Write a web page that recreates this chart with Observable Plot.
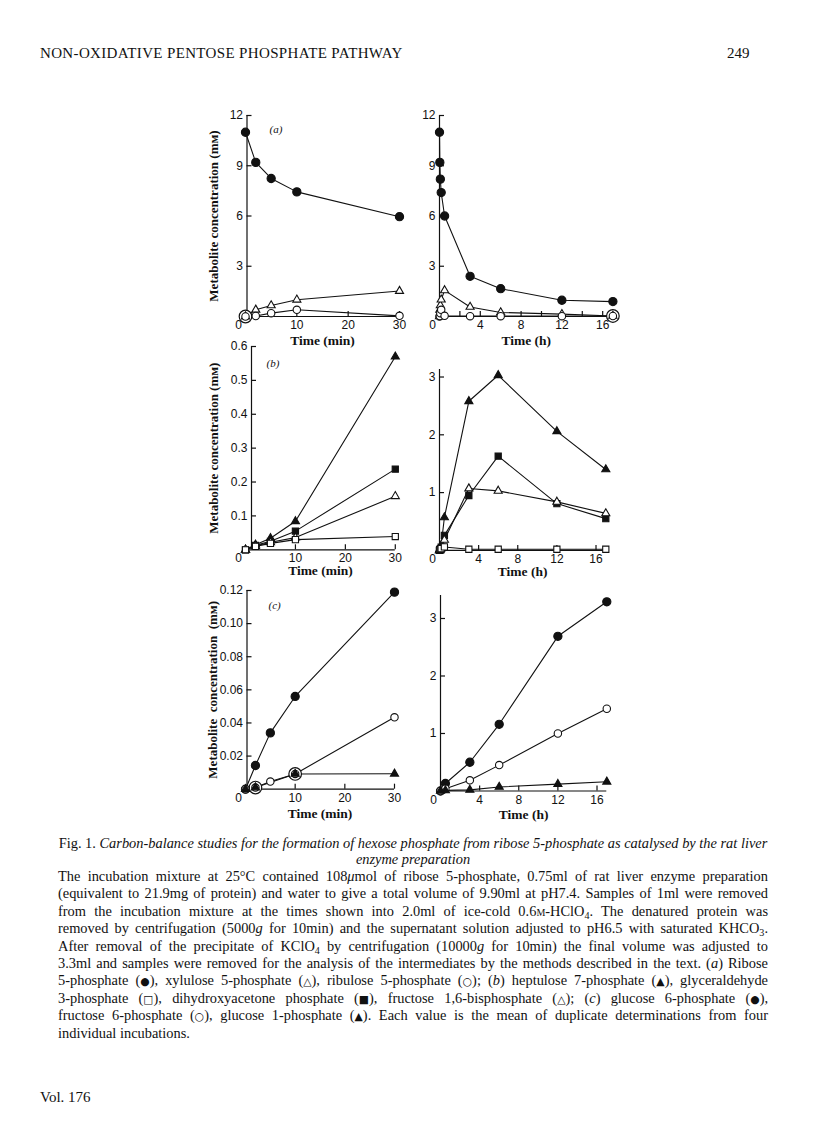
<!DOCTYPE html>
<html>
<head>
<meta charset="utf-8">
<script src="https://cdn.jsdelivr.net/npm/d3@7"></script>
<script src="https://cdn.jsdelivr.net/npm/@observablehq/plot@0.6"></script>
<style>
html,body{margin:0;padding:0;background:#fff;}
#page{position:relative;width:816px;height:1136px;overflow:hidden;background:#fff;color:#111;font-family:"Liberation Serif","Times New Roman",serif;}
.hdr{position:absolute;top:45px;font-size:15px;white-space:nowrap;}
.ln{position:absolute;left:58px;width:710px;font-size:14.4px;line-height:16px;white-space:nowrap;}
.ln.c{text-align:center;}
.ln sub{font-size:70%;vertical-align:-0.25em;line-height:0;}
.sym{font-family:"DejaVu Sans",sans-serif;font-size:75%;}
.sc{font-variant:small-caps;}
svg{overflow:visible;}
</style>
</head>
<body>
<div id="page">
  <div class="hdr" style="left:40px;letter-spacing:0.35px">NON-OXIDATIVE PENTOSE PHOSPHATE PATHWAY</div>
  <div class="hdr" style="left:727px">249</div>
  <div id="plots"></div>
  <div class="ln c" style="top:835px">Fig. 1. <i>Carbon-balance studies for the formation of hexose phosphate from ribose 5-phosphate as catalysed by the rat liver</i></div>
  <div class="ln c" style="top:851px"><i>enzyme preparation</i></div>
  <div class="ln j" style="top:868px"><span>The incubation mixture at 25°C contained 108<i>μ</i>mol of ribose 5-phosphate, 0.75ml of rat liver enzyme preparation</span></div>
  <div class="ln j" style="top:885px"><span>(equivalent to 21.9mg of protein) and water to give a total volume of 9.90ml at pH7.4. Samples of 1ml were removed</span></div>
  <div class="ln j" style="top:903px"><span>from the incubation mixture at the times shown into 2.0ml of ice-cold 0.6<span class="sc">m</span>-HClO<sub>4</sub>. The denatured protein was</span></div>
  <div class="ln j" style="top:920px"><span>removed by centrifugation (5000<i>g</i> for 10min) and the supernatant solution adjusted to pH6.5 with saturated KHCO<sub>3</sub>.</span></div>
  <div class="ln j" style="top:938px"><span>After removal of the precipitate of KClO<sub>4</sub> by centrifugation (10000<i>g</i> for 10min) the final volume was adjusted to</span></div>
  <div class="ln j" style="top:955px"><span>3.3ml and samples were removed for the analysis of the intermediates by the methods described in the text. (<i>a</i>) Ribose</span></div>
  <div class="ln j" style="top:972px"><span>5-phosphate (<span class="sym">●</span>), xylulose 5-phosphate (<span class="sym">△</span>), ribulose 5-phosphate (<span class="sym">○</span>); (<i>b</i>) heptulose 7-phosphate (<span class="sym">▲</span>), glyceraldehyde</span></div>
  <div class="ln j" style="top:990px"><span>3-phosphate (<span class="sym">□</span>), dihydroxyacetone phosphate (<span class="sym">■</span>), fructose 1,6-bisphosphate (<span class="sym">△</span>); (<i>c</i>) glucose 6-phosphate (<span class="sym">●</span>),</span></div>
  <div class="ln j" style="top:1007px"><span>fructose 6-phosphate (<span class="sym">○</span>), glucose 1-phosphate (<span class="sym">▲</span>). Each value is the mean of duplicate determinations from four</span></div>
  <div class="ln" style="top:1025px">individual incubations.</div>
  <div class="hdr" style="left:40px;top:1089px">Vol. 176</div>
</div>
<script>
// ---------- data: panel (a) ----------
const tMinA = [0, 2, 5, 10, 30];
const ribose5pMin = [11.0, 9.2, 8.24, 7.44, 5.96];
const xylulose5pMin = [0, 0.40, 0.66, 1.00, 1.52];
const ribulose5pMin = [0, 0.03, 0.20, 0.40, 0.04];
const ringedMinA = [0];

const tHrA = [0, 0.033, 0.083, 0.167, 0.5, 3, 6, 12, 17];
const ribose5pHr = [11.0, 9.2, 8.2, 7.4, 6.0, 2.4, 1.66, 0.97, 0.89];
const xylulose5pHr = [0, 0.40, 0.66, 1.00, 1.56, 0.57, 0.24, 0.14, 0.03];
const ribulose5pHr = [0, 0.03, 0.20, 0.40, 0.04, 0.02, 0.02, 0.02, 0.03];
const ringedHrA = [17];

// ---------- data: panel (b) ----------
const tMinB = [0, 2, 5, 10, 30];
const heptulose7pMin = [0, 0.015, 0.034, 0.084, 0.57];
const dhapMin = [0, 0.013, 0.025, 0.055, 0.238];
const fbpMin = [0, 0.011, 0.022, 0.036, 0.158];
const g3pMin = [0, 0.010, 0.019, 0.030, 0.039];

const tHrB = [0, 0.033, 0.083, 0.167, 0.5, 3, 6, 12, 17];
const heptulose7pHr = [0, 0.015, 0.034, 0.084, 0.57, 2.58, 3.03, 2.06, 1.40];
const dhapHr = [0, 0.013, 0.025, 0.055, 0.26, 0.95, 1.63, 0.81, 0.55];
const fbpHr = [0, 0.011, 0.022, 0.036, 0.18, 1.07, 1.03, 0.84, 0.64];
const g3pHr = [0, 0.010, 0.019, 0.030, 0.06, 0.02, 0.02, 0.02, 0.02];

// ---------- data: panel (c) ----------
const tMinC = [0, 2, 5, 10, 30];
const g6pMin = [0, 0.0143, 0.034, 0.056, 0.119];
const f6pMin = [0, 0.001, 0.0046, 0.0092, 0.0434];
const tMinCg1p = [0, 2, 10, 30];
const g1pMin = [0, 0.001, 0.0092, 0.0093];
const ringedMinC = [2, 10];

const tHrC = [0, 0.5, 3, 6, 12, 17];
const g6pHr = [0, 0.13, 0.50, 1.16, 2.69, 3.29];
const f6pHr = [0, 0.04, 0.185, 0.45, 1.00, 1.43];
const g1pHr = [0, 0.01, 0.02, 0.07, 0.12, 0.16];

// ---------- ticks & labels ----------
const yTicksA = [3, 6, 9, 12];
const yTicksBmin = [0.1, 0.2, 0.3, 0.4, 0.5, 0.6];
const yTicksBhr = [1, 2, 3];
const yTicksCmin = [0.02, 0.04, 0.06, 0.08, 0.10, 0.12];
const yTicksChr = [1, 2, 3];
const xTicksMin = [10, 20, 30];
const xTicksHr = [4, 8, 12, 16];
const xMinorHr = [2, 6, 10, 14];
const originLabel = [0];
const yTitle = "Metabolite concentration (m\u1D0D)";
const xTitleMin = "Time (min)";
const xTitleHr = "Time (h)";
const panelTags = ["(a)", "(b)", "(c)"];

// ---------- drawing ----------
const INK = "#111";
const SANS = "'Liberation Sans', Arial, sans-serif";
const SERIF = "'Liberation Serif', 'Times New Roman', serif";

function rows(t, v) { return t.map((x, i) => ({t: x, v: v[i]})); }

function panel(cfg) {
  const g = cfg.geom;
  const mL = 80, mR = 22, mT = 14, mB = 46;
  const iw = g.x1 - g.x0, ih = g.y0 - g.y1;
  const width = mL + iw + mR, height = mT + ih + mB;
  const adx = g.axisDx || 0;
  const marks = [
    Plot.ruleY([0], {stroke: INK, strokeWidth: 1.2}),
    Plot.ruleX([0], {stroke: INK, strokeWidth: 1.2, dx: adx}),
    Plot.tickY(cfg.yTicks, {y: d => d, insetRight: iw - 5, dx: adx, stroke: INK, strokeWidth: 1.2}),
    Plot.tickX(cfg.xTicks.concat(cfg.xMinor || []), {x: d => d, insetTop: ih - 5, stroke: INK, strokeWidth: 1.2}),
    Plot.axisY({ticks: cfg.yTicks, tickSize: 0, tickPadding: 4, dx: adx, tickFormat: cfg.yFmt, label: null, fill: INK}),
    Plot.axisX({ticks: cfg.xTicks, tickSize: 0, tickPadding: 4, label: null, fill: INK}),
    Plot.axisX(originLabel, {tickSize: 0, tickPadding: 4, dx: -7, label: null, fill: INK}),
    Plot.text([cfg.xTitle], {frameAnchor: "bottom", textAnchor: "middle", lineAnchor: "middle", dy: cfg.xTitleDy, fontFamily: SERIF, fontSize: 13.5, fontWeight: "bold", fill: INK})
  ];
  if (cfg.yTitle) marks.push(Plot.text([cfg.yTitle], {frameAnchor: "left", textAnchor: "middle", lineAnchor: "middle", rotate: -90, dx: -cfg.yTitleOff, fontFamily: SERIF, fontSize: 13, fontWeight: "bold", fill: INK}));
  if (cfg.tag) marks.push(Plot.text([cfg.tag], {frameAnchor: "top-left", textAnchor: "start", lineAnchor: "middle", dx: cfg.tagDx, dy: cfg.tagDy, fontFamily: SERIF, fontStyle: "italic", fontSize: 11, fill: INK}));
  for (const s of cfg.series) marks.push(Plot.line(rows(s.t, s.v), {x: "t", y: "v", stroke: INK, strokeWidth: 1.1}));
  for (const r of (cfg.rings || [])) {
    const d = rows(r.s.t, r.s.v).filter(p => r.at.includes(p.t));
    marks.push(Plot.dot(d, {x: "t", y: "v", r: 6.3, fill: "white", stroke: INK, strokeWidth: 1.2}));
  }
  for (const s of cfg.series) {
    const filled = s.fill;
    const r = s.sym === "circle" ? (filled ? 4.1 : 3.7) : s.sym === "square" ? 3.5 : 3.0;
    marks.push(Plot.dot(rows(s.t, s.v), {x: "t", y: "v", symbol: s.sym, r, fill: filled ? INK : "white", stroke: INK, strokeWidth: 1.1}));
  }
  const svg = Plot.plot({
    width, height, marginLeft: mL, marginRight: mR, marginTop: mT, marginBottom: mB,
    x: {domain: [0, g.xMax]}, y: {domain: [0, g.yMax]},
    style: {fontFamily: SANS, fontSize: "12px", background: "transparent", color: INK},
    marks
  });
  svg.style.position = "absolute";
  svg.style.left = (g.x0 - mL) + "px";
  svg.style.top = (g.y1 - mT) + "px";
  document.getElementById("plots").appendChild(svg);
}

const fmt0 = d3.format("d"), fmt1 = d3.format(".1f"), fmt2 = d3.format(".2f");

panel({geom: {x0: 245, x1: 399, y0: 316, y1: 115, xMax: 30, yMax: 12, axisDx: 1.5},
  yTicks: yTicksA, yFmt: fmt0, xTicks: xTicksMin, xTitle: xTitleMin, xTitleDy: 24,
  yTitle: yTitle, yTitleOff: 32, tag: panelTags[0], tagDx: 24, tagDy: 14,
  series: [
    {t: tMinA, v: ribose5pMin, sym: "circle", fill: true},
    {t: tMinA, v: xylulose5pMin, sym: "triangle", fill: false},
    {t: tMinA, v: ribulose5pMin, sym: "circle", fill: false}
  ],
  rings: [{s: {t: tMinA, v: ribulose5pMin}, at: ringedMinA}]
});
panel({geom: {x0: 439.3, x1: 612.7, y0: 316, y1: 115, xMax: 17, yMax: 12, axisDx: 0},
  yTicks: yTicksA, yFmt: fmt0, xTicks: xTicksHr, xMinor: xMinorHr, xTitle: xTitleHr, xTitleDy: 24,
  series: [
    {t: tHrA, v: ribose5pHr, sym: "circle", fill: true},
    {t: tHrA, v: xylulose5pHr, sym: "triangle", fill: false},
    {t: tHrA, v: ribulose5pHr, sym: "circle", fill: false}
  ],
  rings: [{s: {t: tHrA, v: ribulose5pHr}, at: ringedHrA}]
});
panel({geom: {x0: 244.5, x1: 394.3, y0: 549.3, y1: 346, xMax: 30, yMax: 0.6, axisDx: 6},
  yTicks: yTicksBmin, yFmt: fmt1, xTicks: xTicksMin, xTitle: xTitleMin, xTitleDy: 21,
  yTitle: yTitle, yTitleOff: 32, tag: panelTags[1], tagDx: 21, tagDy: 17,
  series: [
    {t: tMinB, v: heptulose7pMin, sym: "triangle", fill: true},
    {t: tMinB, v: dhapMin, sym: "square", fill: true},
    {t: tMinB, v: fbpMin, sym: "triangle", fill: false},
    {t: tMinB, v: g3pMin, sym: "square", fill: false}
  ]
});
panel({geom: {x0: 439.3, x1: 605.6, y0: 550, y1: 369.1, xMax: 17, yMax: 3.13, axisDx: 0},
  yTicks: yTicksBhr, yFmt: fmt0, xTicks: xTicksHr, xTitle: xTitleHr, xTitleDy: 21,
  series: [
    {t: tHrB, v: heptulose7pHr, sym: "triangle", fill: true},
    {t: tHrB, v: dhapHr, sym: "square", fill: true},
    {t: tHrB, v: fbpHr, sym: "triangle", fill: false},
    {t: tHrB, v: g3pHr, sym: "square", fill: false}
  ]
});
panel({geom: {x0: 245.3, x1: 394.3, y0: 788.7, y1: 590, xMax: 30, yMax: 0.12, axisDx: 1.5},
  yTicks: yTicksCmin, yFmt: fmt2, xTicks: xTicksMin, xTitle: xTitleMin, xTitleDy: 24,
  yTitle: yTitle.replace(/ /g, "\u00a0\u00a0"), yTitleOff: 33, tag: panelTags[2], tagDx: 23, tagDy: 15,
  series: [
    {t: tMinC, v: g6pMin, sym: "circle", fill: true},
    {t: tMinC, v: f6pMin, sym: "circle", fill: false},
    {t: tMinCg1p, v: g1pMin, sym: "triangle", fill: true}
  ],
  rings: [{s: {t: tMinC, v: f6pMin}, at: ringedMinC}]
});
panel({geom: {x0: 440, x1: 606.3, y0: 790.7, y1: 595.2, xMax: 17, yMax: 3.4, axisDx: 0},
  yTicks: yTicksChr, yFmt: fmt0, xTicks: xTicksHr, xTitle: xTitleHr, xTitleDy: 24,
  series: [
    {t: tHrC, v: g6pHr, sym: "circle", fill: true},
    {t: tHrC, v: f6pHr, sym: "circle", fill: false},
    {t: tHrC, v: g1pHr, sym: "triangle", fill: true}
  ]
});

// justify caption lines
document.querySelectorAll(".ln.j").forEach(div => {
  const span = div.firstElementChild;
  span.style.display = "inline-block";
  const w = span.getBoundingClientRect().width;
  const target = 710;
  const spaces = (span.textContent.match(/ /g) || []).length;
  if (w < target && spaces) span.style.wordSpacing = ((target - w) / spaces) + "px";
  else if (w > target) { span.style.transformOrigin = "0 0"; span.style.transform = "scaleX(" + (target / w) + ")"; }
});
</script>
</body>
</html>
